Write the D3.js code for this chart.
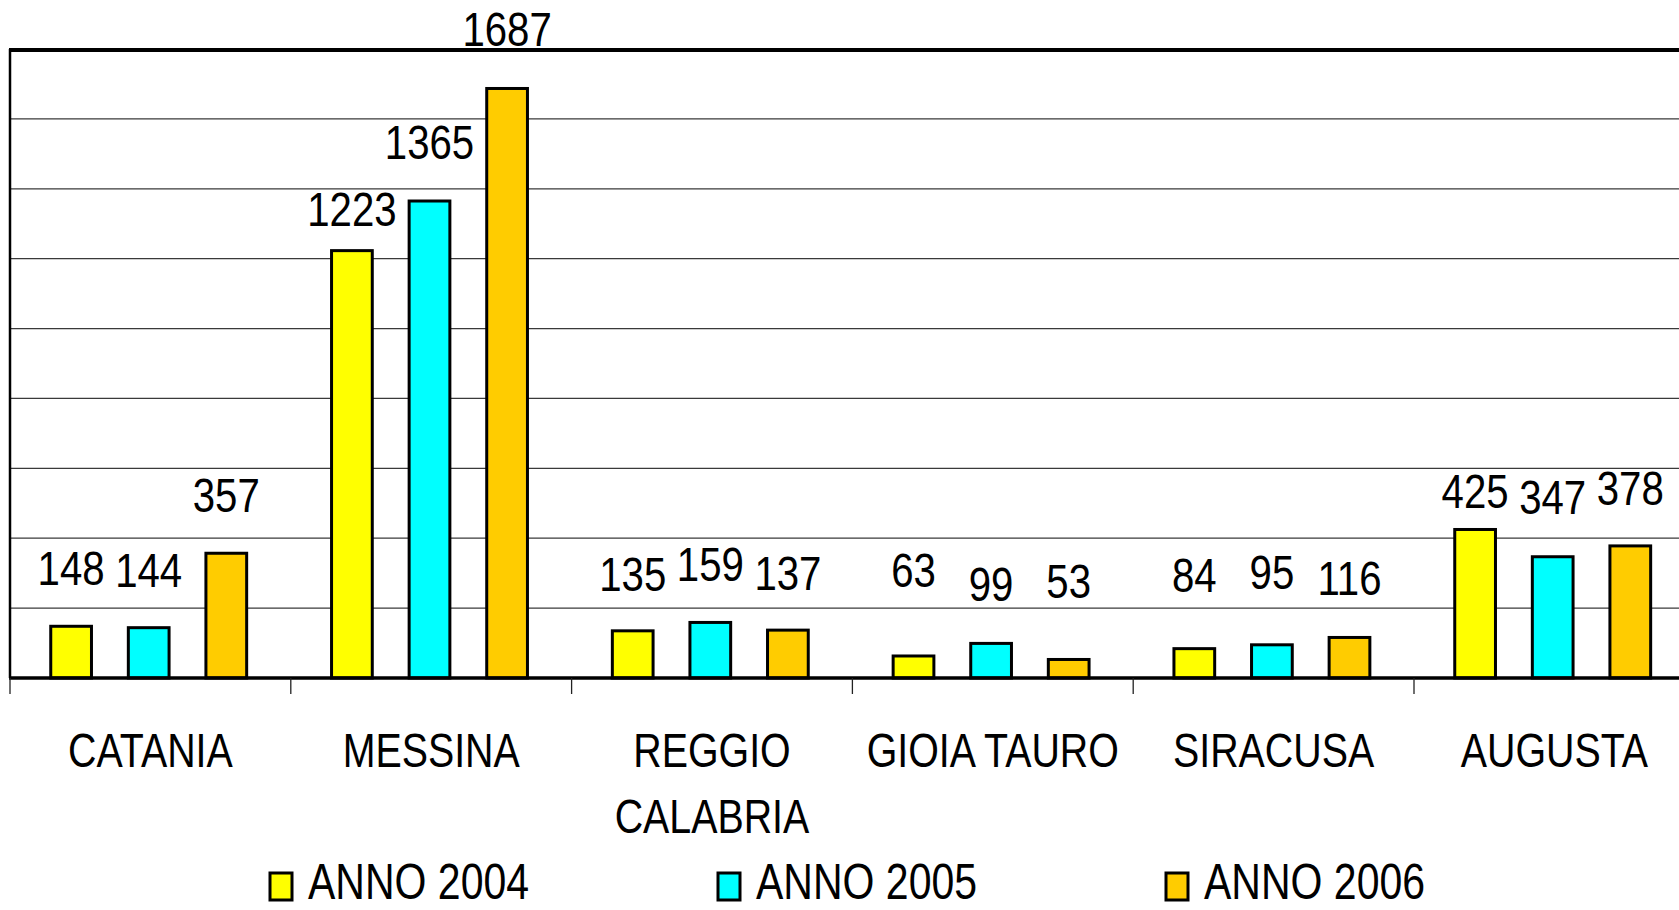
<!DOCTYPE html>
<html>
<head>
<meta charset="utf-8">
<script src="https://cdn.jsdelivr.net/npm/d3@7/dist/d3.min.js"></script>
<style>
  html, body { margin: 0; padding: 0; background: #ffffff; overflow: hidden; }
  svg { display: block; }
</style>
</head>
<body>
<svg id="chart" width="1679" height="910"></svg>
<script>
// ---- data ----
const categories = ["CATANIA", "MESSINA", "REGGIO CALABRIA", "GIOIA TAURO", "SIRACUSA", "AUGUSTA"];
const seriesNames = ["ANNO 2004", "ANNO 2005", "ANNO 2006"];
const values2004 = [148, 1223, 135, 63, 84, 425];
const values2005 = [144, 1365, 159, 99, 95, 347];
const values2006 = [357, 1687, 137, 53, 116, 378];
const yTickValues = [0, 200, 400, 600, 800, 1000, 1200, 1400, 1600, 1800];

// ---- styling / layout (not data) ----
const seriesColors = ["#FFFF00", "#00FFFF", "#FFCC00"];
// how high each value label sits above its bar (px), as placed in the original
const labelLift = [
  [41, 41, 41],
  [25, 42, 42],
  [40, 41, 40],
  [69, 42, 61],
  [57, 56, 42],
  [21, 43, 41]
];
const FONT = "'Liberation Sans Narrow', 'Arial Narrow', 'Liberation Sans', Arial, sans-serif";

const svg = d3.select("#chart");
const W = 1679, H = 910;
const plot = { left: 10, top: 49, bottom: 678, catWidth: 280.8 };

const series = [values2004, values2005, values2006];

const x0 = d3.scaleBand()
  .domain(categories)
  .range([plot.left, plot.left + plot.catWidth * categories.length])
  .padding(0);

const x1 = d3.scaleBand()
  .domain(seriesNames)
  .range([0, x0.bandwidth()])
  .paddingInner(0.475)
  .paddingOuter(0.547)
  .align(0.48);

const y = d3.scaleLinear().domain([0, 1800]).range([plot.bottom, plot.top]);

// detect whether a narrow font is available; otherwise compress horizontally
const probe = svg.append("text").attr("font-family", FONT).attr("font-size", 100).text("ANNO 2004 CATANIA");
const probeW = probe.node().getComputedTextLength();
const probe2 = svg.append("text").attr("font-family", "'Liberation Sans', Arial, sans-serif").attr("font-size", 100).text("ANNO 2004 CATANIA");
const probeW2 = probe2.node().getComputedTextLength();
probe.remove(); probe2.remove();
const squeeze = (probeW / probeW2 > 0.92) ? 0.82 : 1;

function addText(g, x, yy, str, size, anchor) {
  const t = g.append("text")
    .attr("font-family", FONT)
    .attr("font-size", size)
    .attr("fill", "#000")
    .attr("text-anchor", anchor || "middle")
    .attr("transform", `translate(${x},${yy}) scale(${squeeze},1)`)
    .text(str);
  return t;
}

// grid lines
svg.append("g")
  .selectAll("line")
  .data(yTickValues.filter(v => v > 0 && v < 1800))
  .join("line")
  .attr("x1", plot.left).attr("x2", W + 20)
  .attr("y1", d => y(d)).attr("y2", d => y(d))
  .attr("stroke", "#3a3a3a")
  .attr("stroke-width", 1.2);

// top border of plot area
svg.append("line")
  .attr("x1", plot.left - 1).attr("x2", W + 20)
  .attr("y1", y(1800) + 1).attr("y2", y(1800) + 1)
  .attr("stroke", "#000").attr("stroke-width", 4);

// left axis line
svg.append("line")
  .attr("x1", plot.left).attr("x2", plot.left)
  .attr("y1", y(1800)).attr("y2", plot.bottom)
  .attr("stroke", "#000").attr("stroke-width", 2.5);

// bars
const groups = svg.append("g").selectAll("g")
  .data(categories)
  .join("g")
  .attr("transform", d => `translate(${x0(d)},0)`);

groups.selectAll("rect")
  .data((c, ci) => seriesNames.map((s, si) => ({ s, si, ci, v: series[si][ci] })))
  .join("rect")
  .attr("x", d => x1(d.s))
  .attr("width", x1.bandwidth())
  .attr("y", d => y(d.v))
  .attr("height", d => y(0) - y(d.v))
  .attr("fill", d => seriesColors[d.si])
  .attr("stroke", "#000")
  .attr("stroke-width", 3);

// value labels
groups.each(function (c, ci) {
  const g = d3.select(this);
  seriesNames.forEach((s, si) => {
    const v = series[si][ci];
    addText(g, x1(s) + x1.bandwidth() / 2, y(v) - labelLift[ci][si], String(v), 49);
  });
});

// x axis baseline
svg.append("line")
  .attr("x1", plot.left - 1).attr("x2", W + 20)
  .attr("y1", plot.bottom).attr("y2", plot.bottom)
  .attr("stroke", "#000").attr("stroke-width", 3.5);

// category boundary ticks
const boundaries = categories.map(c => x0(c)).concat([x0.range()[1]]);
svg.append("g").selectAll("line")
  .data(boundaries)
  .join("line")
  .attr("x1", d => d).attr("x2", d => d)
  .attr("y1", plot.bottom).attr("y2", plot.bottom + 16)
  .attr("stroke", "#222").attr("stroke-width", 1.3);

// category labels (wrap when wider than the band)
const catG = svg.append("g");
categories.forEach(c => {
  const cx = x0(c) + x0.bandwidth() / 2;
  const t = addText(catG, cx, 767, c, 48);
  const w = t.node().getComputedTextLength() * squeeze;
  if (w > x0.bandwidth() - 10) {
    t.remove();
    const words = c.split(" ");
    words.forEach((wd, i) => addText(catG, cx, 767 + i * 66, wd, 48));
  }
});

// legend
const legendX = [270, 718, 1166];
const legend = svg.append("g");
seriesNames.forEach((s, i) => {
  legend.append("rect")
    .attr("x", legendX[i]).attr("y", 873)
    .attr("width", 22).attr("height", 27)
    .attr("fill", seriesColors[i])
    .attr("stroke", "#000").attr("stroke-width", 3);
  addText(legend, legendX[i] + 38, 899, s, 50, "start");
});
</script>
</body>
</html>
